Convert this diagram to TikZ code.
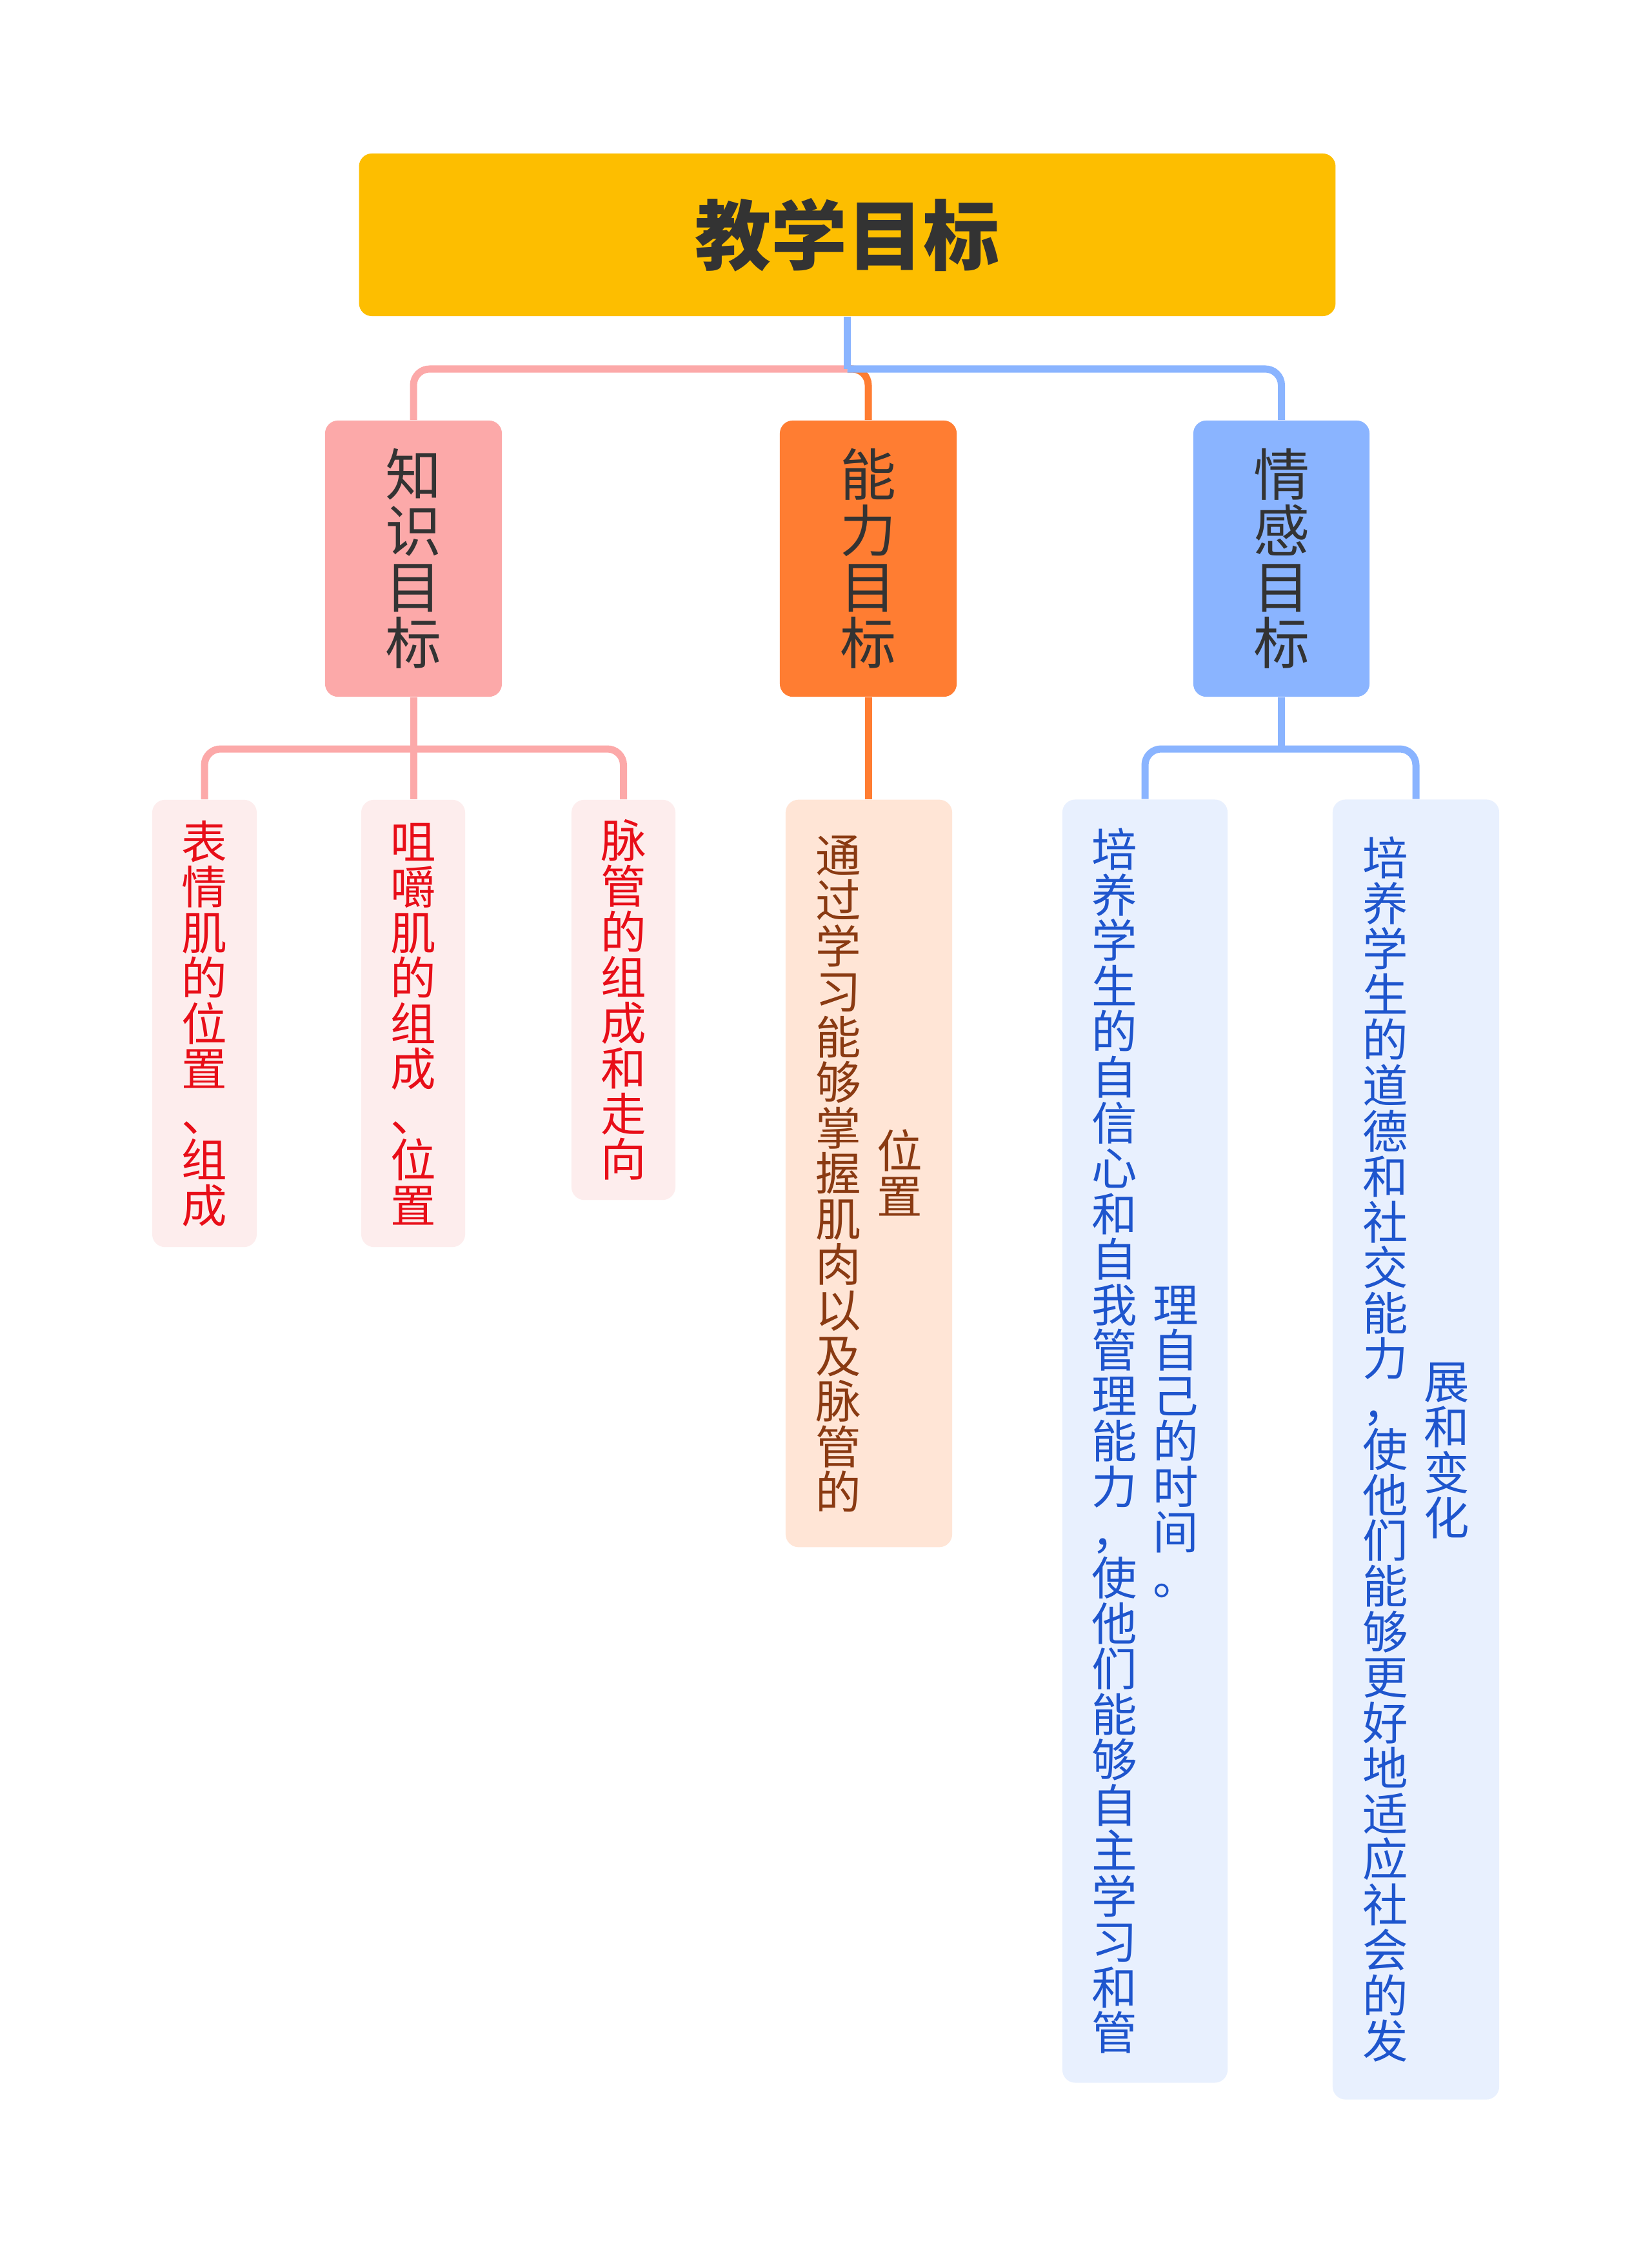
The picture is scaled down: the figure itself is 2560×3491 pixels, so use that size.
\documentclass[tikz,border=0pt]{standalone}
\usepackage{fontspec}
\setmainfont{Noto Sans CJK SC}
\makeatletter
\newlength\vtw
\def\vt@end{vt@end@marker}
\def\vt@loop#1{\ifx#1\vt@end\else\hbox to\vtw{\hss\vrule height .88\vtw depth .12\vtw width 0pt #1\hss}\expandafter\vt@loop\fi}
\newcommand\vtext[1]{\setlength\vtw{1em}\vbox{\offinterlineskip\vt@loop#1\vt@end}}
\newcommand\vcol[1]{\setlength\vtw{1em}$\vcenter{\offinterlineskip\vt@loop#1\vt@end}$}
\makeatother
\definecolor{cgold}{RGB}{253,190,0}
\definecolor{cdark}{RGB}{51,51,51}
\definecolor{cpink}{RGB}{252,169,169}
\definecolor{corange}{RGB}{255,125,50}
\definecolor{cblue}{RGB}{138,180,255}
\definecolor{lpink}{RGB}{253,237,237}
\definecolor{lorange}{RGB}{255,229,214}
\definecolor{lblue}{RGB}{232,240,254}
\definecolor{tred}{RGB}{232,14,24}
\definecolor{tbrown}{RGB}{138,58,18}
\definecolor{tblue}{RGB}{30,85,205}
\begin{document}
\begin{tikzpicture}[x=0.01cm,y=-0.01cm,
  box/.style={rounded corners=0.2cm, inner sep=0pt, align=center},
  rootbox/.style={box, fill=cgold, text=cdark, minimum width=15.13cm, minimum height=2.52cm,
    font=\fontsize{33.57pt}{33.57pt}\selectfont\bfseries},
  lvlone/.style={box, text=cdark, minimum width=2.74cm, minimum height=4.28cm,
    font=\fontsize{24.75pt}{24.75pt}\selectfont},
  lvltwo/.style={box, font=\fontsize{20.06pt}{20.06pt}\selectfont},
  pinkleaf/.style={lvltwo, fill=lpink, text=tred},
  orangeleaf/.style={lvltwo, fill=lorange, text=tbrown},
  blueleaf/.style={lvltwo, fill=lblue, text=tblue},
  conn/.style={line width=0.11cm},
  pline/.style={conn, draw=cpink},
  oline/.style={conn, draw=corange},
  bline/.style={conn, draw=cblue},
  rc/.style={rounded corners=0.25cm}]
\path[use as bounding box, fill=white] (0,0) rectangle (2560,3491);

% root
\node[rootbox] (root) at (1313.5,364) {教学目标};

% level 1
\node[lvlone, fill=cpink] (k) at (641,866) {\vtext{知识目标}};
\node[lvlone, fill=corange] (n) at (1346,866) {\vtext{能力目标}};
\node[lvlone, fill=cblue, minimum width=2.73cm] (q) at (1986.5,866) {\vtext{情感目标}};

% level 2
\node[pinkleaf, minimum width=1.62cm, minimum height=6.93cm] (p1) at (317,1586.5) {\vtext{表情肌的位置、组成}};
\node[pinkleaf, minimum width=1.61cm, minimum height=6.93cm] (p2) at (640.5,1586.5) {\vtext{咀嚼肌的组成、位置}};
\node[pinkleaf, minimum width=1.61cm, minimum height=6.20cm] (p3) at (966.5,1550) {\vtext{脉管的组成和走向}};
\node[orangeleaf, minimum width=2.58cm, minimum height=11.58cm] (o1) at (1347,1819) {\vcol{通过学习能够掌握肌肉以及脉管的}\hspace{0.245cm}\vcol{位置}};
\node[blueleaf, minimum width=2.56cm, minimum height=19.88cm] (b1) at (1775,2234) {\vcol{培养学生的自信心和自我管理能力，使他们能够自主学习和管}\hspace{0.245cm}\vcol{理自己的时间。}};
\node[blueleaf, minimum width=2.58cm, minimum height=20.14cm] (b2) at (2195,2247) {\vcol{培养学生的道德和社交能力，使他们能够更好地适应社会的发}\hspace{0.245cm}\vcol{展和变化}};

% connectors root -> level 1
\coordinate (j) at (1313.5,572);
\draw[oline, rc] (j) -| (n.north);
\draw[pline, rc] (j) -| (k.north);
\draw[bline] (root.south) -- (j);
\draw[bline, rc] (j) -| (q.north);

% connectors level 1 -> level 2
\coordinate (kj) at (641,1161);
\draw[pline] (k.south) -- (k.south |- p2.north);
\draw[pline, rc] (p1.north) |- (kj) -| (p3.north);

\draw[oline] (n.south) -- (n.south |- o1.north);

\coordinate (qj) at (1986.5,1161);
\draw[bline] (q.south) -- (qj);
\draw[bline, rc] (b1.north) |- (qj) -| (b2.north);
\end{tikzpicture}
\end{document}
